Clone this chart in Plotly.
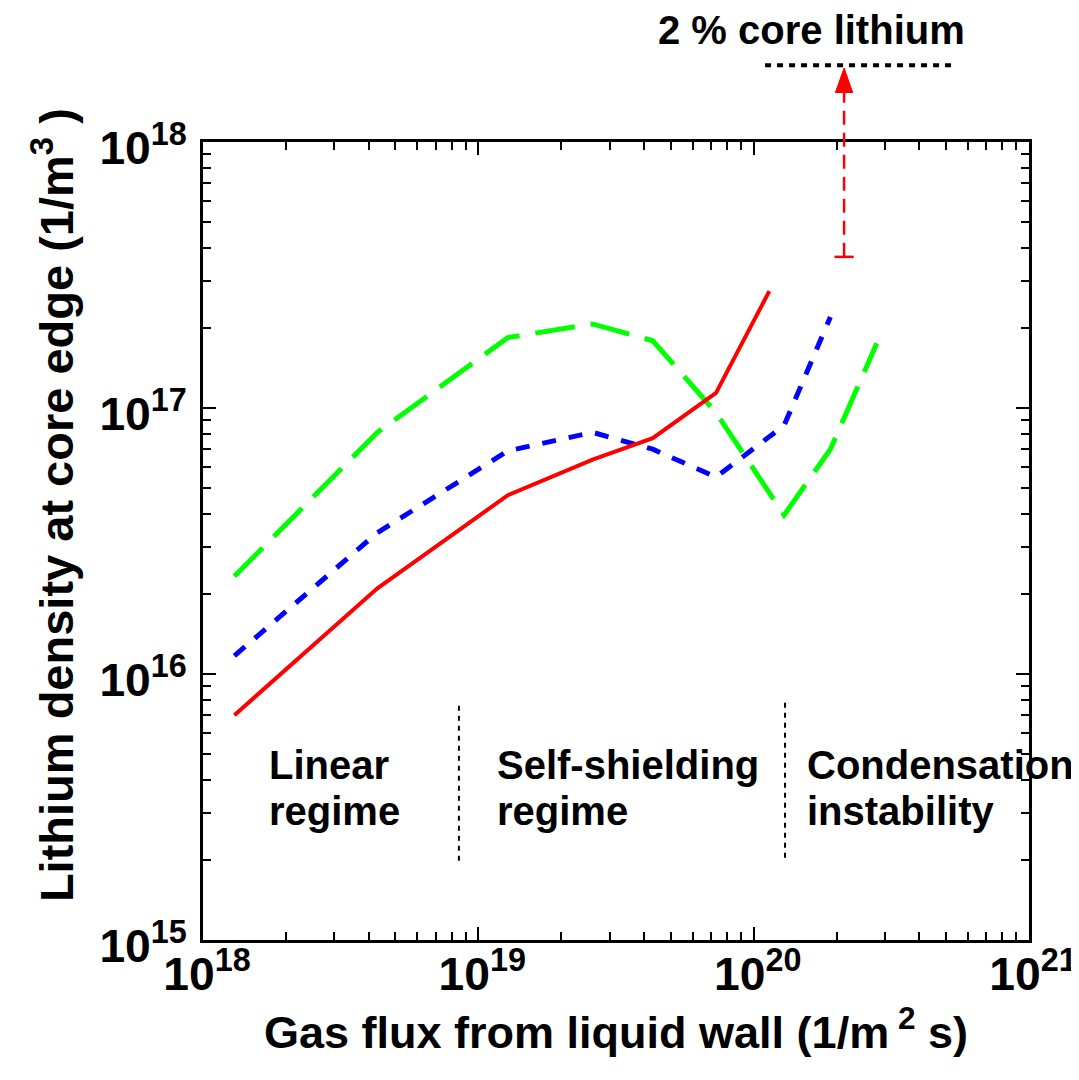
import numpy as np
import plotly.graph_objects as go

# ---- data ----
red_x = [1.3e18, 4.3e18, 1.28e19, 2.6e19, 4.3e19, 7.3e19, 1.14e20]
red_y = [7.0e15, 2.1e16, 4.7e16, 6.4e16, 7.7e16, 1.14e17, 2.75e17]

blue_x = [1.3e18, 4.3e18, 1.28e19, 2.6e19, 4.3e19, 7.3e19, 1.29e20, 1.9e20]
blue_y = [1.17e16, 3.4e16, 6.9e16, 8.1e16, 7.0e16, 5.5e16, 8.6e16, 2.2e17]

green_x = [1.3e18, 4.3e18, 1.28e19, 2.6e19, 4.3e19, 7.3e19, 1.29e20, 1.9e20, 2.8e20]
green_y = [2.33e16, 8.1e16, 1.84e17, 2.07e17, 1.79e17, 9.6e16, 3.96e16, 7.0e16, 1.75e17]

# regime boundaries (vertical dotted separators)
sep1_x = [8.5e18, 8.5e18]
sep1_y = [7.6e15, 1.9e15]
sep2_x = [1.3e20, 1.3e20]
sep2_y = [7.8e15, 1.98e15]

# arrow toward "2 % core lithium"
arrow_x = 2.13e20
arrow_cap_y = 3.7e17
cap_half_width_dex = 0.035
core_line_x = [1.1e20, 5.35e20]

regime_line1 = ["Linear", "Self-shielding", "Condensation"]
regime_line2 = ["regime", "regime", "instability"]
regime_label_x = [1.71e18, 1.15e19, 1.54e20]
regime_line1_y = 4.55e15
regime_line2_y = 3.05e15

XR = [18, 21]
YR = [15, 18]

FONT = "Liberation Sans, Arial, Helvetica, sans-serif"


def xp(v):
    return (np.log10(v) - XR[0]) / (XR[1] - XR[0])


def yp(v):
    return (np.log10(v) - YR[0]) / (YR[1] - YR[0])


fig = go.Figure()

fig.add_trace(go.Scatter(x=green_x, y=green_y, mode="lines",
                         line=dict(color="#00ff00", width=5, dash="40px,16px")))
fig.add_trace(go.Scatter(x=blue_x, y=blue_y, mode="lines",
                         line=dict(color="#0000ff", width=5, dash="14px,13px")))
fig.add_trace(go.Scatter(x=red_x, y=red_y, mode="lines",
                         line=dict(color="#ff0000", width=4)))

for sx, sy in [(sep1_x, sep1_y), (sep2_x, sep2_y)]:
    fig.add_trace(go.Scatter(x=sx, y=sy, mode="lines",
                             line=dict(color="black", width=2, dash="5px,5px")))

# arrow shaft (dashed), cap, head -- placed in paper coordinates derived from data values
ax_p = xp(arrow_x)
cap_p = yp(arrow_cap_y)
tip_p = 1.0927
head_base_p = 1.062
shapes = [
    dict(type="line", xref="paper", yref="paper", x0=ax_p, x1=ax_p, y0=cap_p, y1=head_base_p,
         line=dict(color="#ff0000", width=2.5, dash="14px,8px")),
    dict(type="line", xref="paper", yref="paper",
         x0=ax_p - cap_half_width_dex / 3, x1=ax_p + cap_half_width_dex / 3, y0=cap_p, y1=cap_p,
         line=dict(color="#ff0000", width=2.5)),
    dict(type="path", xref="paper", yref="paper",
         path=f"M {ax_p - 0.0105},{head_base_p} L {ax_p + 0.0105},{head_base_p} L {ax_p},{tip_p} Z",
         fillcolor="#ff0000", line=dict(color="#ff0000", width=1)),
    dict(type="line", xref="paper", yref="paper", x0=xp(core_line_x[0]), x1=xp(core_line_x[1]),
         y0=1.0961, y1=1.0961, line=dict(color="black", width=4, dash="6px,6px")),
]

annotations = [
    dict(text="<b>2 % core lithium</b>", xref="paper", yref="paper", x=0.737, y=1.140,
         showarrow=False, font=dict(family=FONT, size=40, color="black"),
         xanchor="center", yanchor="middle"),
    dict(text="<b>Lithium density at core edge (1/m<sup>3</sup> )</b>", xref="paper", yref="paper",
         x=-0.1816, y=0.545, textangle=-90, showarrow=False,
         font=dict(family=FONT, size=47, color="black"), xanchor="center", yanchor="middle"),
]
for l1, l2, lx in zip(regime_line1, regime_line2, regime_label_x):
    for t, ly in [(l1, regime_line1_y), (l2, regime_line2_y)]:
        annotations.append(dict(text=f"<b>{t}</b>", xref="x", yref="y", x=np.log10(lx),
                                y=np.log10(ly), showarrow=False, align="left",
                                xanchor="left", yanchor="middle",
                                font=dict(family=FONT, size=40, color="black")))

axis_common = dict(
    type="log", dtick=1, exponentformat="power", showexponent="all",
    ticks="inside", ticklen=13, tickwidth=2, tickcolor="black",
    showline=True, linewidth=2.5, linecolor="black", mirror="allticks",
    showgrid=False, zeroline=False,
    minor=dict(ticks="inside", ticklen=8, tickwidth=2, tickcolor="black", dtick="D1", showgrid=False),
    tickfont=dict(family=FONT, size=37, color="black", weight="bold"),
)

fig.update_layout(
    width=1079, height=1080,
    margin=dict(l=195, r=58, t=134, b=148, autoexpand=False),
    paper_bgcolor="white", plot_bgcolor="white",
    showlegend=False,
    xaxis=dict(range=XR, ticklabelstandoff=-6, ticklabelshift=4,
               title=dict(text="Gas flux from liquid wall (1/m<sup> 2</sup> s)", standoff=6,
                          font=dict(family=FONT, size=45, color="black", weight="bold")),
               **axis_common),
    yaxis=dict(range=YR, ticklabelstandoff=6, ticklabelshift=6, **axis_common),
    shapes=shapes,
    annotations=annotations,
)

fig.write_html("out.html")
